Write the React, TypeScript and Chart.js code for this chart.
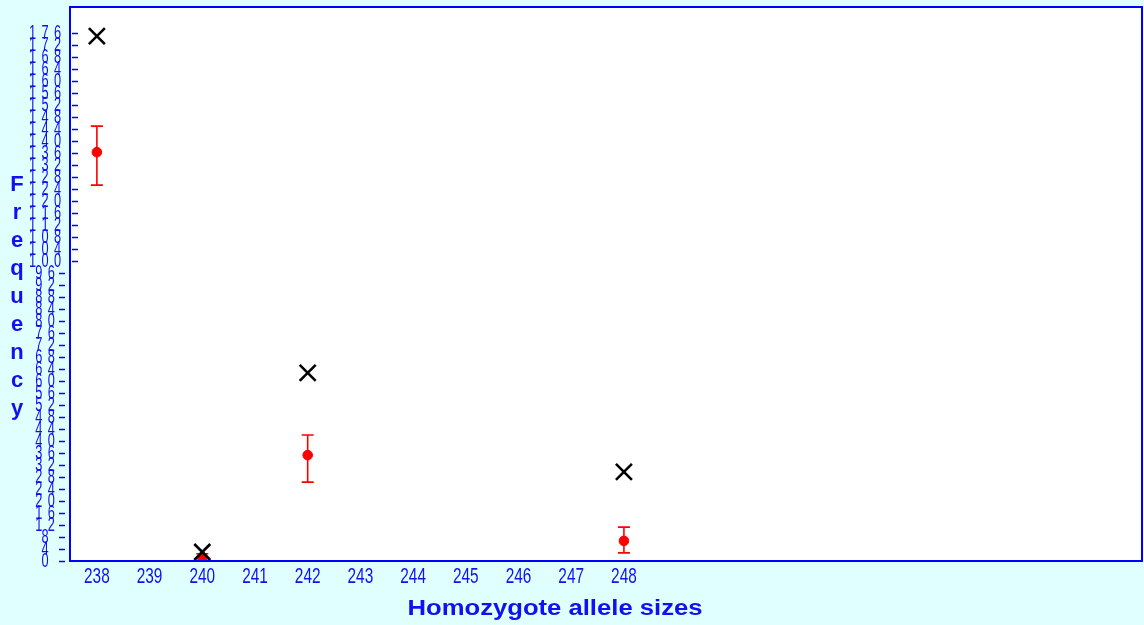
import React, { useEffect, useRef } from 'react';
import { Chart, registerables } from 'chart.js';

Chart.register(...registerables);

// ---- data ----
const alleleSizes = [238, 240, 242, 248];
const observed = [175, 3, 62.7, 29.7];
const expected = [136.3, 1.3, 35.3, 6.7];
const expectedLow = [125.3, 0.2, 26.3, 2.7];
const expectedHigh = [145, 2.4, 42, 11.3];
const xTickValues = [238, 239, 240, 241, 242, 243, 244, 245, 246, 247, 248];
const yTickValues = [0, 4, 8, 12, 16, 20, 24, 28, 32, 36, 40, 44, 48, 52, 56, 60, 64, 68, 72, 76, 80, 84, 88, 92, 96, 100, 104, 108, 112, 116, 120, 124, 128, 132, 136, 140, 144, 148, 152, 156, 160, 164, 168, 172, 176];
const xTitle = 'Homozygote allele sizes';
const yTitle = 'Frequency';

const BG = '#e0ffff';
const AXIS_BLUE = '#0000ff';
const TEXT_BLUE = '#1010f0';

const decor = {
  id: 'decor',
  beforeDraw(chart: any) {
    const { ctx, chartArea: a, width, height } = chart;
    ctx.save();
    ctx.fillStyle = BG;
    ctx.fillRect(0, 0, width, height);
    ctx.fillStyle = '#ffffff';
    ctx.fillRect(a.left, a.top, a.right - a.left, a.bottom - a.top);
    ctx.restore();
  },
  beforeDatasetsDraw(chart: any) {
    const { ctx } = chart;
    const xs = chart.scales.x;
    const ys = chart.scales.y;
    ctx.save();
    ctx.strokeStyle = '#ff0000';
    ctx.lineWidth = 1.6;
    alleleSizes.forEach((v, i) => {
      const px = xs.getPixelForValue(v);
      const lo = ys.getPixelForValue(expectedLow[i]);
      const hi = ys.getPixelForValue(expectedHigh[i]);
      ctx.beginPath();
      ctx.moveTo(px, lo);
      ctx.lineTo(px, hi);
      ctx.moveTo(px - 6, lo);
      ctx.lineTo(px + 6, lo);
      ctx.moveTo(px - 6, hi);
      ctx.lineTo(px + 6, hi);
      ctx.stroke();
    });
    ctx.restore();
  },
  afterDraw(chart: any) {
    const { ctx, chartArea: a } = chart;
    const xs = chart.scales.x;
    const ys = chart.scales.y;
    ctx.save();
    // frame
    ctx.strokeStyle = AXIS_BLUE;
    ctx.lineWidth = 2;
    ctx.strokeRect(a.left, a.top, a.right - a.left, a.bottom - a.top);

    // y ticks
    ctx.lineWidth = 1.5;
    yTickValues.forEach((v) => {
      const py = Math.round(ys.getPixelForValue(v)) + 0.5;
      ctx.beginPath();
      if (v >= 100) {
        ctx.moveTo(a.left + 2, py);
        ctx.lineTo(a.left + 8, py);
      } else {
        ctx.moveTo(a.left - 11, py);
        ctx.lineTo(a.left - 5, py);
      }
      ctx.stroke();
    });

    // y tick labels (narrow, spaced digits)
    ctx.fillStyle = TEXT_BLUE;
    ctx.font = '20px "Liberation Sans", Arial, sans-serif';
    ctx.textAlign = 'center';
    ctx.textBaseline = 'middle';
    const cx = 45;
    yTickValues.forEach((v) => {
      const py = ys.getPixelForValue(v);
      const s = String(v);
      const n = s.length;
      for (let i = 0; i < n; i++) {
        const dx = cx + (i - (n - 1) / 2) * 12.5;
        ctx.save();
        ctx.translate(dx, py);
        ctx.scale(0.64, 1);
        ctx.fillText(s[i], 0, 0);
        ctx.restore();
      }
    });

    // x tick labels
    ctx.font = '22px "Liberation Sans", Arial, sans-serif';
    ctx.textBaseline = 'middle';
    xTickValues.forEach((v) => {
      const px = xs.getPixelForValue(v);
      ctx.save();
      ctx.translate(px, a.bottom + 16);
      ctx.scale(0.7, 1);
      ctx.fillText(String(v), 0, 0);
      ctx.restore();
    });

    // x title
    ctx.font = 'bold 22px "Liberation Sans", Arial, sans-serif';
    ctx.textBaseline = 'alphabetic';
    const w = ctx.measureText(xTitle).width;
    ctx.save();
    ctx.translate(555, 615);
    ctx.scale(295 / w, 1);
    ctx.fillText(xTitle, 0, 0);
    ctx.restore();

    // y title, stacked letters
    ctx.font = 'bold 22px "Liberation Sans", Arial, sans-serif';
    for (let i = 0; i < yTitle.length; i++) {
      ctx.fillText(yTitle[i], 17, 191 + i * 28);
    }
    ctx.restore();
  },
};

function noPad(s: any) {
  s.paddingTop = 0;
  s.paddingBottom = 0;
  s.paddingLeft = 0;
  s.paddingRight = 0;
}

export default function App() {
  const ref = useRef<HTMLCanvasElement | null>(null);
  useEffect(() => {
    document.body.style.margin = '0';
    document.body.style.background = BG;
    const canvas = ref.current;
    if (!canvas) return;
    const chart = new Chart(canvas, {
      type: 'scatter',
      data: {
        datasets: [
          {
            label: 'Observed',
            data: alleleSizes.map((x, i) => ({ x, y: observed[i] })),
            pointStyle: 'crossRot',
            pointRadius: 11.3,
            pointHoverRadius: 11.3,
            borderColor: '#000000',
            backgroundColor: '#000000',
            pointBorderWidth: 2.6,
            showLine: false,
          },
          {
            label: 'Expected',
            data: alleleSizes.map((x, i) => ({ x, y: expected[i] })),
            pointStyle: 'circle',
            pointRadius: 4.8,
            pointHoverRadius: 4.8,
            borderColor: '#ff0000',
            backgroundColor: '#ff0000',
            pointBorderWidth: 1,
            showLine: false,
          },
        ],
      },
      options: {
        responsive: false,
        animation: false,
        events: [],
        layout: { autoPadding: false, padding: { top: 7, right: 2, left: 0, bottom: 0 } },
        plugins: {
          legend: { display: false },
          tooltip: { enabled: false },
          title: { display: false },
        },
        scales: {
          x: {
            type: 'linear',
            min: 237.49,
            max: 257.83,
            grid: { display: false, drawTicks: false },
            border: { display: false },
            ticks: { display: false },
            afterFit: (s: any) => {
              s.height = 64;
              noPad(s);
            },
          },
          y: {
            type: 'linear',
            min: 0,
            max: 184.7,
            grid: { display: false, drawTicks: false },
            border: { display: false },
            ticks: { display: false },
            afterFit: (s: any) => {
              s.width = 70;
              noPad(s);
            },
          },
        },
      },
      plugins: [decor],
    });
    return () => chart.destroy();
  }, []);
  return (
    <div style={{ width: 1144, height: 625, background: BG }}>
      <canvas ref={ref} width={1144} height={625} style={{ display: 'block' }} />
    </div>
  );
}
